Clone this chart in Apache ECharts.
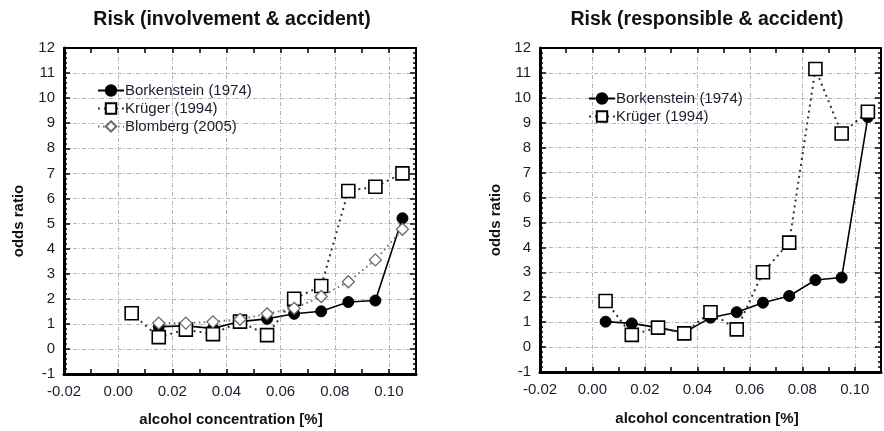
<!DOCTYPE html>
<html>
<head>
<meta charset="utf-8">
<script src="https://cdn.jsdelivr.net/npm/echarts@6/dist/echarts.min.js"></script>
<style>
html,body{margin:0;padding:0;background:#fff;}
#chart{width:884px;height:431px;}
</style>
</head>
<body>
<div id="chart"></div>
<script>
// ---- data ----
var concentrations = [0.005, 0.015, 0.025, 0.035, 0.045, 0.055, 0.065, 0.075, 0.085, 0.095, 0.105];
var involvementBorkenstein = [null, 0.89, 0.92, 0.82, 1.09, 1.2, 1.4, 1.5, 1.87, 1.93, 5.21];
var involvementKruger      = [1.42, 0.47, 0.77, 0.59, 1.09, 0.55, 2.0, 2.51, 6.3, 6.47, 7.0];
var involvementBlomberg    = [null, 1.03, 1.03, 1.08, 1.18, 1.4, 1.62, 2.09, 2.68, 3.55, 4.77];
var responsibleBorkenstein = [1.02, 0.95, 0.78, 0.58, 1.18, 1.4, 1.78, 2.05, 2.69, 2.79, 9.23];
var responsibleKruger      = [1.85, 0.49, 0.78, 0.55, 1.4, 0.71, 3.0, 4.19, 11.16, 8.57, 9.44];
var seriesNames = ['Borkenstein (1974)', 'Krüger (1994)', 'Blomberg (2005)'];
var panelTitles = ['Risk (involvement & accident)', 'Risk (responsible & accident)'];
var xAxisTitle = 'alcohol concentration [%]';
var yAxisTitle = 'odds ratio';
var xMin = -0.02, xMax = 0.11, xLabelStep = 0.02, xTickStep = 0.01;
var yMin = -1, yMax = 12, yStep = 1;

// ---- styling / build ----
var FONT = "'Liberation Sans', Arial, sans-serif";
var LABEL_COLOR = '#1c1c2c';
var GRID_LINE = {show: true, lineStyle: {color: '#b4b4b4', width: 1, type: [4, 2, 1, 2]}};

function pairs(vals) {
  var out = [];
  concentrations.forEach(function (x, i) { if (vals[i] != null) out.push([x, vals[i]]); });
  return out;
}

var grids = [
  {left: 64, top: 48, width: 352, height: 326},
  {left: 540, top: 48, width: 348, height: 324}
];

var xAxes = [], yAxes = [];
grids.forEach(function (g, gi) {
  xAxes.push({
    type: 'value', gridIndex: gi, position: 'bottom', min: xMin, max: xMax, interval: xTickStep,
    axisLine: {show: true, onZero: false, lineStyle: {color: '#000', width: 3}},
    axisTick: {show: true, inside: true, length: 5, lineStyle: {color: '#000', width: 1.5}},
    axisLabel: {
      show: true, margin: 10, color: LABEL_COLOR, fontSize: 15, fontFamily: FONT,
      formatter: function (v) { var k = Math.round(v * 100); return (k % 2 === 0) ? (k / 100).toFixed(2) : ''; }
    },
    splitLine: {show: false}
  });
  xAxes.push({
    type: 'value', gridIndex: gi, position: 'top', min: xMin, max: xMax, interval: xTickStep,
    axisLine: {show: true, onZero: false, lineStyle: {color: '#000', width: 2}},
    axisTick: {show: true, inside: true, length: 5, lineStyle: {color: '#000', width: 1.5}},
    axisLabel: {show: false}, splitLine: {show: false}
  });
  xAxes.push({
    type: 'value', gridIndex: gi, position: 'bottom', min: xMin, max: xMax, interval: xLabelStep,
    axisLine: {show: false}, axisTick: {show: false}, axisLabel: {show: false},
    splitLine: GRID_LINE
  });
  yAxes.push({
    type: 'value', gridIndex: gi, position: 'left', min: yMin, max: yMax, interval: yStep,
    axisLine: {show: true, onZero: false, lineStyle: {color: '#000', width: 3}},
    axisTick: {show: true, inside: true, length: 6, lineStyle: {color: '#000', width: 1.5}},
    minorTick: {show: true, splitNumber: 5, length: 3, lineStyle: {color: '#000', width: 1.5}},
    axisLabel: {show: true, margin: 9, color: LABEL_COLOR, fontSize: 15, fontFamily: FONT},
    splitLine: GRID_LINE
  });
  yAxes.push({
    type: 'value', gridIndex: gi, position: 'right', min: yMin, max: yMax, interval: yStep,
    axisLine: {show: true, onZero: false, lineStyle: {color: '#000', width: 2}},
    axisTick: {show: true, inside: true, length: 6, lineStyle: {color: '#000', width: 1.5}},
    minorTick: {show: true, splitNumber: 5, length: 3, lineStyle: {color: '#000', width: 1.5}},
    axisLabel: {show: false}, splitLine: {show: false}
  });
});

var styleBork = {
  symbol: 'circle', symbolSize: 11,
  itemStyle: {color: '#000', borderColor: '#000', borderWidth: 1},
  lineStyle: {color: '#000', width: 1.6, type: 'solid'}
};
var styleKrug = {
  symbol: 'rect', symbolSize: 13,
  itemStyle: {color: '#fff', borderColor: '#000', borderWidth: 1.6},
  lineStyle: {color: '#333', width: 2, type: [2, 4]}
};
var styleBlom = {
  symbol: 'diamond', symbolSize: 12,
  itemStyle: {color: '#fff', borderColor: '#6a6a6a', borderWidth: 1.3},
  lineStyle: {color: '#6f6f6f', width: 2, type: [1.5, 3.5]}
};

function mk(name, gi, vals, st) {
  return Object.assign({
    type: 'line', name: name, xAxisIndex: gi * 3, yAxisIndex: gi * 2,
    data: pairs(vals), showAllSymbol: true, connectNulls: false,
    emphasis: {disabled: true}
  }, st);
}

var series = [
  mk(seriesNames[0], 0, involvementBorkenstein, styleBork),
  mk(seriesNames[1], 0, involvementKruger, styleKrug),
  mk(seriesNames[2], 0, involvementBlomberg, styleBlom),
  mk(seriesNames[0], 1, responsibleBorkenstein, styleBork),
  mk(seriesNames[1], 1, responsibleKruger, styleKrug)
];

var legendCommon = {
  orient: 'vertical', itemWidth: 26, itemHeight: 13, itemGap: 3, padding: 0,
  selectedMode: false,
  textStyle: {fontSize: 15, fontFamily: FONT, color: '#1c1c2c', padding: [0, 0, 0, -4]}
};

function txt(x, y, s, size, rot) {
  return {
    type: 'text', x: x, y: y, rotation: rot || 0,
    style: {text: s, font: 'bold ' + size + 'px ' + FONT, fill: '#111', align: 'center', verticalAlign: 'middle'}
  };
}

var option = {
  animation: false,
  backgroundColor: '#fff',
  grid: grids,
  xAxis: xAxes,
  yAxis: yAxes,
  legend: [
    Object.assign({left: 97, top: 83, data: seriesNames.slice(0, 3)}, legendCommon),
    Object.assign({left: 588, top: 91, data: seriesNames.slice(0, 2)}, legendCommon)
  ],
  graphic: [
    txt(232, 20, panelTitles[0], 19.5),
    txt(707, 20, panelTitles[1], 19.5),
    txt(231, 420, xAxisTitle, 15),
    txt(707, 419, xAxisTitle, 15),
    txt(19, 221, yAxisTitle, 15, Math.PI / 2),
    txt(496, 220, yAxisTitle, 15, Math.PI / 2)
  ],
  series: series
};

var chart = echarts.init(document.getElementById('chart'), null, {renderer: 'canvas'});
chart.setOption(option);
</script>
</body>
</html>
